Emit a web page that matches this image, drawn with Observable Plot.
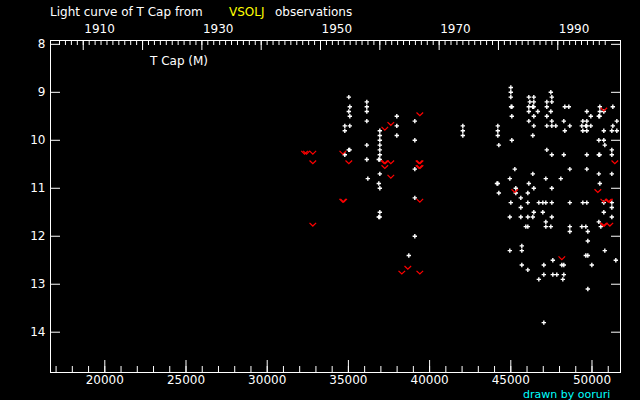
<!DOCTYPE html>
<html><head><meta charset="utf-8">
<script src="https://cdn.jsdelivr.net/npm/d3@7"></script>
<script src="https://cdn.jsdelivr.net/npm/@observablehq/plot@0.6"></script>
<style>html,body{margin:0;padding:0;background:#000;} svg{display:block;}</style>
</head><body><div id="chart"></div>
<script>
// Visual observations (JD - 2400000, magnitude)
const obsJD = [
35026,35087,35026,35087,34779,35087,34779,35020,35080,34779,
36134,36134,36134,36134,36134,36134,36196,
36935,36935,36935,36935,36935,36935,36870,36930,36935,36873,36935,36935,36870,36930,
37981,37981,37981,
39090,39090,39090,39090,39090,38720,
42046,42046,42046,
45001,45001,45001,45020,45070,45063,44201,44201,44201,45063,44263,
46110,46418,46172,46418,46110,46350,46410,46110,46664,46418,46110,46418,46356,
47465,47526,47218,47526,47218,47465,47218,47526,47218,47526,47773,
48327,48573,48265,48635,48327,
49682,49928,49435,49682,49374,49620,49670,49928,49435,49682,
50482,50482,50728,51283,50420,50470,51529,51283,50728,51221,51529,
50421,50728,50790,51221,51221,50420,50470,49682,48265,47526,47218,
45248,46356,44940,47157,48080,48635,49682,50421,51221,
44150,44200,46110,50482,
44263,45309,45309,46418,46048,47526,
45617,45001,46048,46726,46972,47157,47526,48635,49435,49682,50728,51221,
45617,51221,
46418,46972,50728,
44940,45617,46048,46356,47526,51221,
47157,50421,
45925,46048,47157,47465,48635,49374,49620,50544,
48635,49743,
49743,45679,44940,45679,50790,49620,49743,51467,47588,45679,47034,48142,48265,49989,46048,47034,47588,47834,48265,46726,48204,49743,47034
];
const obsMag = [
9.1,9.3,9.4,9.5,9.7,9.7,9.8,10.2,10.2,10.3,
9.2,9.3,9.4,9.6,10.1,10.4,10.8,
9.8,9.9,10.0,10.1,10.2,10.3,10.4,10.4,10.7,10.9,11.0,11.5,11.6,11.6,
9.5,9.7,9.9,
9.6,10.0,10.6,11.2,12.0,12.4,
9.7,9.8,9.9,
8.9,9.0,9.1,9.3,9.3,9.5,9.7,9.8,9.9,10.0,10.1,
9.1,9.1,9.2,9.2,9.3,9.3,9.3,9.4,9.4,9.5,9.6,9.7,9.9,
9.0,9.1,9.2,9.2,9.3,9.4,9.5,9.6,9.7,9.7,9.7,
9.3,9.3,9.6,9.7,9.8,
9.4,9.5,9.6,9.6,9.7,9.7,9.7,9.7,9.8,9.8,
9.3,9.4,9.4,9.3,9.5,9.5,9.6,9.7,9.8,9.8,9.8,
10.0,10.0,10.1,10.2,10.3,10.3,10.3,10.3,10.3,10.3,10.2,
10.6,10.7,10.8,10.8,10.8,10.6,10.6,10.7,10.7,
10.9,10.9,10.9,10.9,
11.1,11.0,11.1,11.0,11.1,11.0,
11.2,11.3,11.3,11.3,11.3,11.3,11.3,11.3,11.3,11.3,11.3,11.3,
11.4,11.4,
11.5,11.5,11.5,
11.6,11.6,11.6,11.6,11.6,11.6,
11.7,11.7,
11.8,11.8,11.8,11.8,11.8,11.8,11.8,11.8,
11.9,11.9,
12.1,12.2,12.3,12.3,12.3,12.4,12.4,12.5,12.5,12.6,12.6,12.6,12.6,12.6,12.7,12.8,12.8,12.8,12.8,12.9,12.9,13.1,13.8
];
// "Fainter than" observations (JD - 2400000, magnitude limit)
const fntJD = [
32300,32420,32809,32809,32809,34656,35026,34650,34710,
37242,37612,39398,37210,37270,37612,37242,37612,39350,39410,39350,39410,39398,38659,38289,39398,
50728,51406,45248,50359,50728,51000,51070,50700,50760,51098,48142
];
const fntMag = [
10.3,10.3,10.3,10.5,11.8,10.3,10.5,11.3,11.3,
9.8,9.7,9.5,10.5,10.5,10.5,10.6,10.8,10.5,10.5,10.6,10.6,11.3,12.7,12.8,12.8,
9.4,10.5,11.1,11.1,11.3,11.3,11.3,11.8,11.8,11.8,12.5
];
const jdTicks = [20000,25000,30000,35000,40000,45000,50000];
const magTicks = [8,9,10,11,12,13,14];
const yearLabels = [1910,1930,1950,1970,1990];
const titleParts = ["Light curve of T Cap from", "VSOLJ", "observations"];
const starLabel = "T Cap (M)";
const credit = "drawn by ooruri";

const jdOfYear = y => 15020 + (y - 1900) * 365.25;
const yearOfJd = jd => Math.round(1900 + (jd - 15020) / 365.25);
const xDomain = [16656, 51755];
const yDomain = [7.92, 14.84];
const minorJD = d3.range(17000, 52000, 1000);
const years = d3.range(1906, 1999).map(jdOfYear);
const decades = d3.range(1910, 2000, 10).map(jdOfYear);

const obs = obsJD.map((jd, i) => ({jd, mag: obsMag[i]}));
const fnt = fntJD.map((jd, i) => ({jd, mag: fntMag[i]}));

const plusSym = {draw(c) {
  const a = 2.2, t = 0.7;
  c.moveTo(-a, -t); c.lineTo(a, -t); c.lineTo(a, t); c.lineTo(-a, t); c.closePath();
  c.moveTo(-t, -a); c.lineTo(t, -a); c.lineTo(t, a); c.lineTo(-t, a); c.closePath();
}};
const vSym = {draw(c) {
  c.moveTo(-3.3, -3.8); c.lineTo(0, -0.6); c.lineTo(3.3, -3.8);
}};

const font = "'DejaVu Sans', sans-serif";
const W = "#ffffff";

const chart = Plot.plot({
  width: 640, height: 400,
  marginLeft: 50, marginRight: 20, marginTop: 40, marginBottom: 28,
  style: {background: "#000", color: W, fontFamily: font, fontSize: "12px"},
  x: {domain: xDomain, axis: null},
  y: {domain: yDomain, reverse: true, axis: null},
  marks: [
    Plot.frame({stroke: W}),
    Plot.axisX(minorJD, {anchor: "bottom", tickSize: -6, fill: "none", stroke: W, label: null}),
    Plot.axisX(jdTicks, {anchor: "bottom", tickSize: -12, fill: "none", stroke: W, label: null}),
    Plot.axisX(jdTicks, {anchor: "bottom", tickSize: 0, tickPadding: 3, fill: W, label: null, fontSize: 12, tickFormat: d => String(d)}),
    Plot.axisX(years, {anchor: "top", tickSize: -4, fill: "none", stroke: W, label: null}),
    Plot.axisX(decades, {anchor: "top", tickSize: -9, fill: "none", stroke: W, label: null}),
    Plot.axisX(yearLabels.map(jdOfYear), {anchor: "top", tickSize: 0, tickPadding: 8, fill: W, label: null, fontSize: 12, textAnchor: "start", dx: 1, tickFormat: d => String(yearOfJd(d))}),
    Plot.axisY(magTicks, {anchor: "left", tickSize: -10, fill: "none", stroke: W, label: null}),
    Plot.axisY(magTicks, {anchor: "right", tickSize: -10, fill: "none", stroke: W, label: null}),
    Plot.axisY(magTicks, {anchor: "left", tickSize: 0, tickPadding: 5, fill: W, label: null, fontSize: 12}),
    Plot.dot(obs, {x: "jd", y: "mag", symbol: plusSym, fill: W, stroke: "none", r: 2}),
    Plot.dot(fnt, {x: "jd", y: "mag", symbol: vSym, fill: "none", stroke: "#ff0000", strokeWidth: 1.2, r: 2})
  ]
});
document.getElementById("chart").appendChild(chart);

const svg = d3.select(chart);
const addText = (x, y, txt, color, size = 12) => svg.append("text")
  .attr("x", x).attr("y", y).attr("fill", color)
  .attr("text-anchor", "start")
  .style("font-family", font).style("font-size", size + "px").text(txt);
addText(50, 16, titleParts[0], W);
addText(229, 16, titleParts[1], "#ffff00");
addText(275, 16, titleParts[2], W);
addText(150, 65, starLabel, W);
addText(523, 398, credit, "#00ffff", 11);
</script>
</body></html>
